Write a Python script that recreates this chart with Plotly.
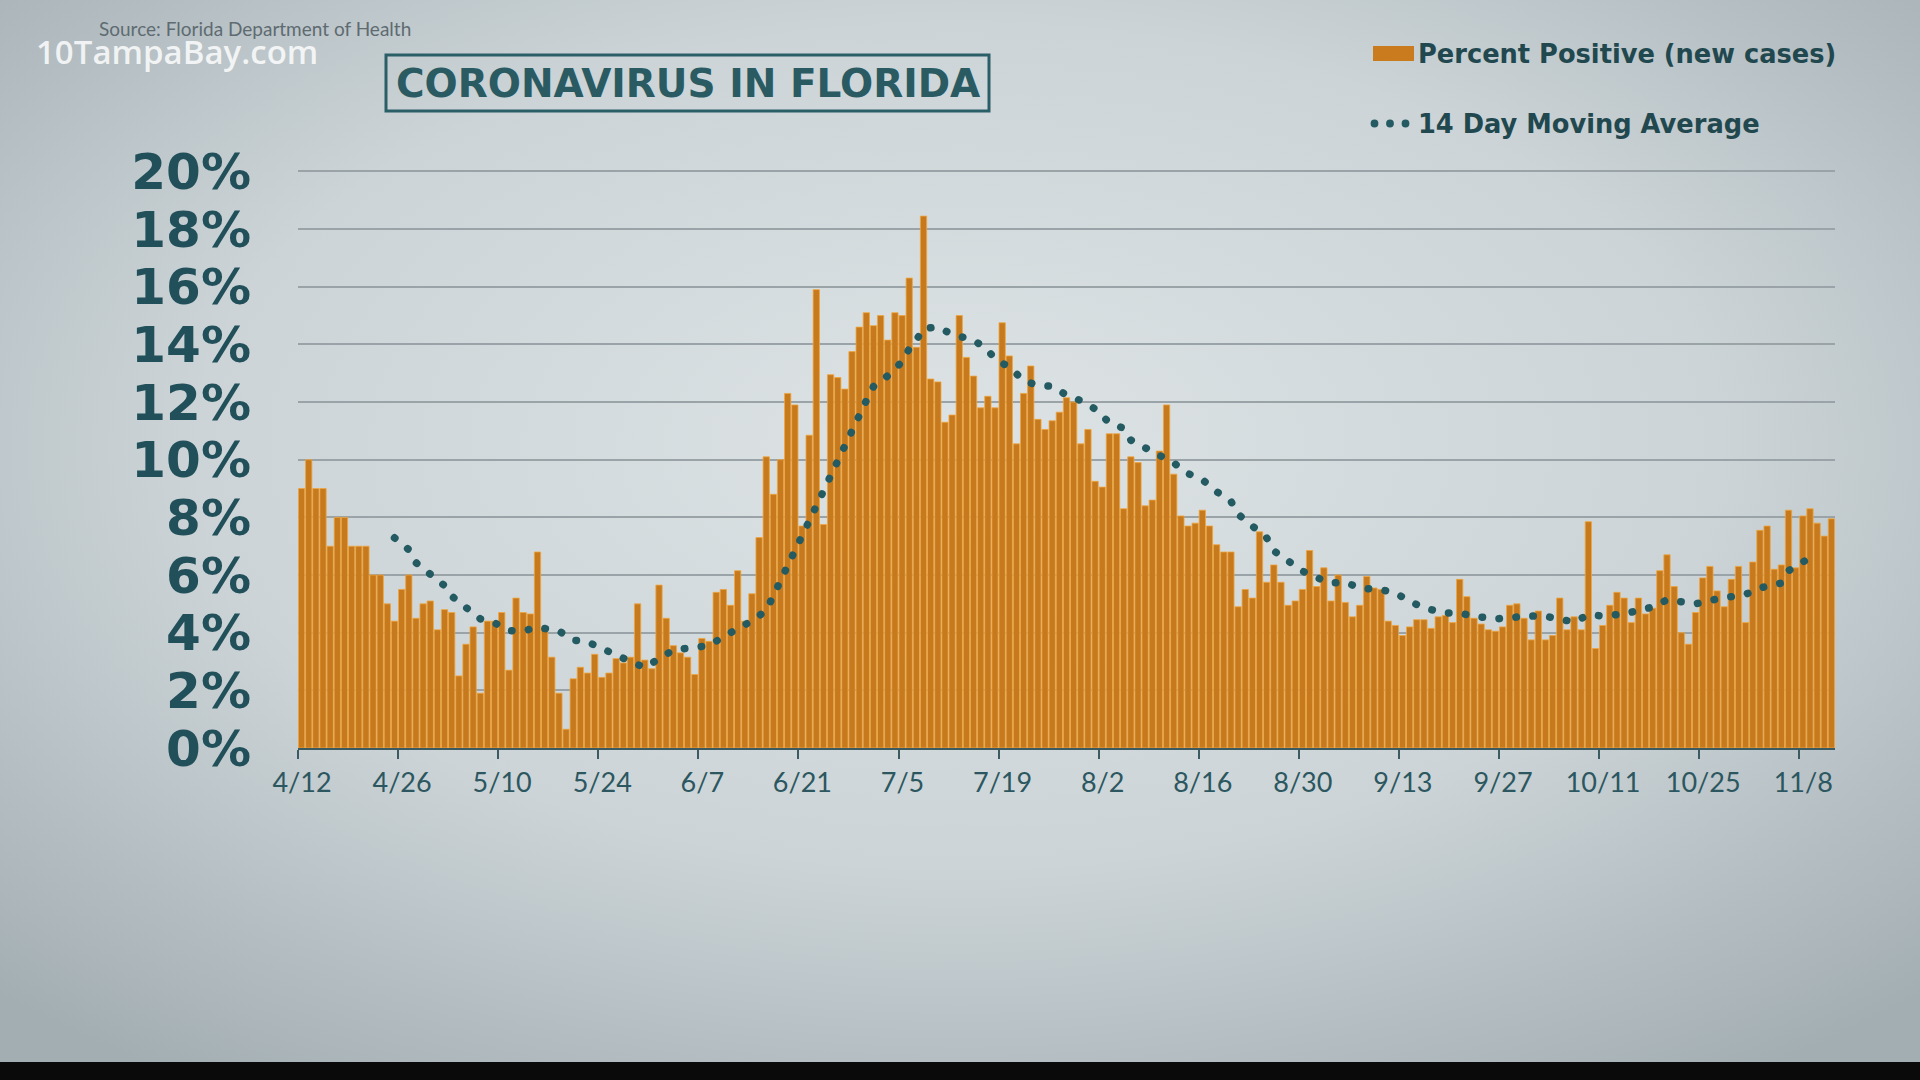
import base64
import pandas as pd
import plotly.graph_objects as go

# ---------------- data ----------------
START_DATE = "2020-04-12"
percent_positive = [
    9.0, 10.0, 9.0, 9.0, 7.0, 8.0, 8.0, 7.0, 7.0, 7.0,
    6.0, 6.0, 5.0, 4.4, 5.5, 6.0, 4.5, 5.0, 5.1, 4.1,
    4.8, 4.7, 2.5, 3.6, 4.2, 1.9, 4.4, 4.4, 4.7, 2.7,
    5.2, 4.7, 4.65, 6.8, 4.15, 3.15, 1.9, 0.65, 2.4, 2.8,
    2.6, 3.25, 2.45, 2.6, 3.1, 2.95, 3.15, 5.0, 3.05, 2.75,
    5.65, 4.5, 3.55, 3.3, 3.15, 2.55, 3.8, 3.7, 5.4, 5.5,
    4.95, 6.15, 4.4, 5.35, 7.3, 10.1, 8.8, 10.0, 12.3, 11.9,
    7.7, 10.85, 15.9, 7.75, 12.95, 12.85, 12.45, 13.75, 14.6, 15.1,
    14.65, 15.0, 14.15, 15.1, 15.0, 16.3, 13.9, 18.45, 12.8, 12.7,
    11.3, 11.55, 15.0, 13.55, 12.9, 11.8, 12.2, 11.8, 14.75, 13.6,
    10.55, 12.3, 13.25, 11.4, 11.05, 11.35, 11.65, 12.15, 12.0, 10.55,
    11.05, 9.25, 9.05, 10.9, 10.9, 8.3, 10.1, 9.9, 8.4, 8.6,
    10.3, 11.9, 9.5, 8.05, 7.7, 7.8, 8.25, 7.7, 7.05, 6.8,
    6.8, 4.9, 5.5, 5.2, 7.5, 5.75, 6.35, 5.75, 4.95, 5.1,
    5.5, 6.85, 5.6, 6.25, 5.1, 6.0, 5.05, 4.55, 4.95, 5.95,
    5.55, 5.5, 4.4, 4.25, 3.9, 4.2, 4.45, 4.45, 4.15, 4.55,
    4.6, 4.35, 5.85, 5.25, 4.5, 4.3, 4.1, 4.05, 4.2, 4.95,
    5.0, 4.5, 3.75, 4.75, 3.75, 3.9, 5.2, 4.1, 4.55, 4.1,
    7.85, 3.45, 4.25, 4.95, 5.4, 5.2, 4.35, 5.2, 4.65, 4.85,
    6.15, 6.7, 5.6, 4.0, 3.6, 4.7, 5.9, 6.3, 5.45, 4.9,
    5.85, 6.3, 4.35, 6.45, 7.55, 7.7, 6.2, 6.35, 8.25, 6.25,
    8.05, 8.3, 7.8, 7.35, 7.95,
]

ma_dates = [
    "2020-04-25", "2020-04-27", "2020-04-28", "2020-04-30", "2020-05-02", "2020-05-03",
    "2020-05-05", "2020-05-07", "2020-05-09", "2020-05-11", "2020-05-13", "2020-05-15",
    "2020-05-18", "2020-05-20", "2020-05-22", "2020-05-24", "2020-05-26", "2020-05-28",
    "2020-05-30", "2020-06-01", "2020-06-03", "2020-06-05", "2020-06-08", "2020-06-10",
    "2020-06-12", "2020-06-14", "2020-06-16", "2020-06-17", "2020-06-18", "2020-06-19",
    "2020-06-20", "2020-06-21", "2020-06-22", "2020-06-23", "2020-06-24", "2020-06-25",
    "2020-06-26", "2020-06-27", "2020-06-28", "2020-06-29", "2020-06-30", "2020-07-01",
    "2020-07-03", "2020-07-05", "2020-07-06", "2020-07-07", "2020-07-08", "2020-07-10",
    "2020-07-12", "2020-07-15", "2020-07-17", "2020-07-18", "2020-07-20", "2020-07-22",
    "2020-07-24", "2020-07-26", "2020-07-28", "2020-07-30", "2020-08-01", "2020-08-03",
    "2020-08-05", "2020-08-06", "2020-08-08", "2020-08-10", "2020-08-12", "2020-08-14",
    "2020-08-16", "2020-08-18", "2020-08-20", "2020-08-21", "2020-08-23", "2020-08-25",
    "2020-08-26", "2020-08-28", "2020-08-30", "2020-09-01", "2020-09-03", "2020-09-05",
    "2020-09-07", "2020-09-10", "2020-09-12", "2020-09-14", "2020-09-16", "2020-09-19",
    "2020-09-21", "2020-09-23", "2020-09-26", "2020-09-28", "2020-09-30", "2020-10-03",
    "2020-10-05", "2020-10-07", "2020-10-09", "2020-10-11", "2020-10-14", "2020-10-16",
    "2020-10-18", "2020-10-20", "2020-10-23", "2020-10-24", "2020-10-27", "2020-10-29",
    "2020-10-31", "2020-11-02", "2020-11-05", "2020-11-06", "2020-11-08", "2020-11-10",
]
ma_values = [
    7.29, 6.88, 6.43, 6.03, 5.63, 5.27,
    4.84, 4.48, 4.34, 4.07, 4.06, 4.19,
    4.06, 3.74, 3.68, 3.43, 3.23, 3.0,
    2.79, 3.09, 3.4, 3.46, 3.55, 3.86,
    4.12, 4.41, 4.77, 5.26, 5.78, 6.32,
    6.87, 7.36, 7.87, 8.41, 8.9, 9.43,
    9.94, 10.49, 11.03, 11.55, 12.05, 12.54,
    12.91, 13.4, 13.85, 14.15, 14.55, 14.6,
    14.35, 14.15, 13.81, 13.48, 13.22, 12.74,
    12.58, 12.55, 12.24, 12.05, 11.76, 11.28,
    11.09, 10.68, 10.4, 10.11, 9.89, 9.52,
    9.31, 8.89, 8.56, 8.11, 7.72, 7.29,
    6.84, 6.48, 6.14, 5.91, 5.72, 5.75,
    5.55, 5.49, 5.38, 5.09, 4.86, 4.68,
    4.68, 4.57, 4.48, 4.51, 4.58, 4.57,
    4.47, 4.37, 4.62, 4.58, 4.65, 4.74,
    4.89, 5.14, 5.05, 5.0, 5.17, 5.23,
    5.33, 5.55, 5.72, 6.15, 6.43, 6.75,
]

y_tick_values = [0, 2, 4, 6, 8, 10, 12, 14, 16, 18, 20]
y_tick_labels = ["0%", "2%", "4%", "6%", "8%", "10%", "12%", "14%", "16%", "18%", "20%"]

bar_name = "Percent Positive (new cases)"
ma_name = "14 Day Moving Average"
title_text = "CORONAVIRUS IN FLORIDA"
source_text = "Source: Florida Department of Health"
watermark_text = "10TampaBay.com"

# ---------------- layout geometry ----------------
FIG_W, FIG_H = 1920, 1080
L, R, T, B = 298, 85, 170, 332
PW, PH = FIG_W - L - R, FIG_H - T - B
PLOT_BOTTOM = FIG_H - B


def px(xpix):
    return (xpix - L) / PW


def py(ypix):
    return (PLOT_BOTTOM - ypix) / PH


DAY_MS = 86400000
dates = pd.date_range(START_DATE, periods=len(percent_positive), freq="D")

TEAL = "#22505a"
ORANGE = "#c77a1d"

fig = go.Figure()
fig.add_trace(go.Bar(
    x=dates, y=percent_positive, name=bar_name,
    xperiod=DAY_MS, xperiodalignment="middle",
    marker=dict(color=ORANGE, line=dict(color="#f0a43c", width=0.8)),
    showlegend=False,
))
fig.add_trace(go.Scatter(
    x=pd.to_datetime(ma_dates), y=ma_values, name=ma_name, mode="lines",
    xperiod=DAY_MS, xperiodalignment="middle",
    line=dict(color="#245b63", width=7.5, dash="0.5px,16.5px"),
    showlegend=False,
))

# background (gradient + black strip) as layout image
svg = (
    "<svg xmlns='http://www.w3.org/2000/svg' width='1920' height='1080'>"
    "<defs><radialGradient id='g' cx='0.5' cy='0.42' r='0.72'>"
    "<stop offset='0' stop-color='#dde3e5'/><stop offset='0.55' stop-color='#ccd4d7'/>"
    "<stop offset='1' stop-color='#a3aeb3'/></radialGradient></defs>"
    "<rect width='1920' height='1062' fill='url(#g)'/>"
    "<rect y='1062' width='1920' height='18' fill='#0a0a0a'/></svg>"
)
svg_uri = "data:image/svg+xml;base64," + base64.b64encode(svg.encode()).decode()

fig.update_layout(
    width=FIG_W, height=FIG_H, autosize=False,
    margin=dict(l=L, r=R, t=T, b=B, pad=0),
    paper_bgcolor="#cfd6d9", plot_bgcolor="rgba(0,0,0,0)",
    bargap=0.12,
    images=[dict(source=svg_uri, xref="paper", yref="paper",
                 x=px(0), y=py(0), sizex=FIG_W / PW, sizey=FIG_H / PH,
                 xanchor="left", yanchor="top", sizing="stretch", layer="below")],
)

fig.update_xaxes(
    type="date", range=["2020-04-12", "2020-11-13"],
    tick0=START_DATE, dtick=14 * DAY_MS, tickformat="%-m/%-d",
    ticks="outside", ticklen=9, tickwidth=2, tickcolor="#3c5a61",
    showline=True, linecolor="#3c5a61", linewidth=2,
    showgrid=False, zeroline=False,
    tickfont=dict(family="Lato", size=27, color="#2c5760"),
    ticklabelshift=4, ticklabelstandoff=1,
)
fig.update_yaxes(
    range=[0, 20.05], tickvals=y_tick_values, ticktext=y_tick_labels,
    showgrid=True, gridcolor="#9aa3a7", gridwidth=1.5,
    showline=False, zeroline=False, ticks="",
    tickfont=dict(family="DejaVu Sans", size=50, color=TEAL, weight="bold"),
    ticklabelstandoff=46,
)

shapes = [
    # title box
    dict(type="rect", xref="paper", yref="paper",
         x0=px(386), x1=px(989), y0=py(111), y1=py(55),
         line=dict(color="#2b5f67", width=3), fillcolor="rgba(0,0,0,0)"),
    # legend swatch for bars
    dict(type="rect", xref="paper", yref="paper",
         x0=px(1373), x1=px(1414), y0=py(61), y1=py(46),
         line=dict(width=0), fillcolor="#c97b1e"),
]
for cx in (1374.5, 1390, 1405.5):
    shapes.append(dict(type="circle", xref="paper", yref="paper",
                       x0=px(cx - 3.9), x1=px(cx + 3.9), y0=py(127.4), y1=py(119.6),
                       line=dict(width=0), fillcolor="#245b63"))

annotations = [
    dict(text=title_text, xref="paper", yref="paper", x=px(687.5), y=py(83),
         xanchor="center", yanchor="middle", showarrow=False,
         font=dict(family="DejaVu Sans", size=39, color="#2a5b63", weight="bold")),
    dict(text=source_text, xref="paper", yref="paper", x=px(97), y=py(29),
         xanchor="left", yanchor="middle", showarrow=False,
         font=dict(family="Lato", size=19, color="#5e6b71")),
    dict(text=watermark_text, xref="paper", yref="paper", x=px(34), y=py(51),
         xanchor="left", yanchor="middle", showarrow=False,
         font=dict(family="Open Sans", size=33, color="rgba(255,255,255,0.82)", weight=600)),
    dict(text=bar_name, xref="paper", yref="paper", x=px(1416), y=py(54),
         xanchor="left", yanchor="middle", showarrow=False,
         font=dict(family="DejaVu Sans", size=25.7, color="#22484f", weight="bold")),
    dict(text=ma_name, xref="paper", yref="paper", x=px(1416), y=py(124),
         xanchor="left", yanchor="middle", showarrow=False,
         font=dict(family="DejaVu Sans", size=25.7, color="#22484f", weight="bold")),
]
fig.update_layout(shapes=shapes, annotations=annotations)

post = (
    "document.body.style.margin='0';document.body.style.overflow='hidden';"
    "document.querySelectorAll('.scatterlayer .js-line').forEach(function(p){"
    "p.style.strokeLinecap='round';});"
)
fig.write_html("out.html", post_script=post, config={"displayModeBar": False})
